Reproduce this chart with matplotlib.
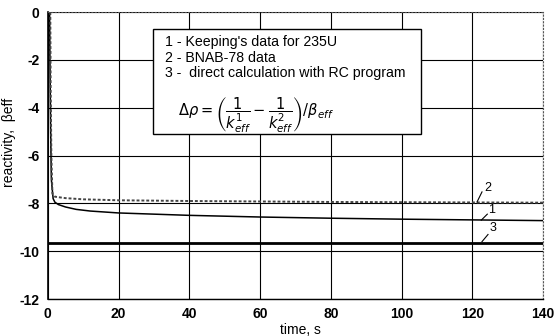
import matplotlib
matplotlib.use('Agg')
import matplotlib.pyplot as plt
from matplotlib.patches import Rectangle

# data
t1 = [0.5, 0.6, 0.8, 1.0, 1.5, 2, 3, 5, 8, 12, 20, 30, 40, 60, 80, 100, 120, 140]
r1 = [0, -2, -5, -7, -7.8, -7.95, -8.05, -8.15, -8.25, -8.32, -8.4, -8.45, -8.5,
      -8.57, -8.62, -8.66, -8.69, -8.72]

t2 = [0.7, 0.8, 1.0, 1.3, 2, 5, 10, 20, 40, 60, 80, 100, 120, 140]
r2 = [0, -3, -6, -7.6, -7.72, -7.78, -7.83, -7.87, -7.9, -7.92, -7.94, -7.95, -7.96, -7.97]

t3 = [0, 140]
r3 = [-9.65, -9.65]

curve_labels = ['2', '1', '3']
label_pos = [(124.4, -7.36), (125.3, -8.28), (125.8, -9.03)]
leader_x = [(121.3, 122.7), (122.5, 124.2), (122.7, 124.4)]
leader_y = [(-7.94, -7.52), (-8.7, -8.45), (-9.6, -9.3)]

legend_lines = ["1 - Keeping's data for 235U",
                "2 - BNAB-78 data",
                "3 -  direct calculation with RC program"]

plt.rcParams['font.family'] = ['Liberation Sans', 'DejaVu Sans']
plt.rcParams['axes.unicode_minus'] = False

fig = plt.figure(figsize=(5.56, 3.36), dpi=100)
ax = fig.add_axes([0.086, 0.110, 0.891, 0.854])

ax.plot(t1, r1, color='black', lw=1.1)
ax.plot(t2, r2, color='#444444', lw=1.4, linestyle=(0, (1.5, 1)))
ax.plot(t3, r3, color='black', lw=2.0)

for lab, (x, y), lx, ly in zip(curve_labels, label_pos, leader_x, leader_y):
    ax.plot(lx, ly, color='black', lw=0.8)
    ax.text(x, y, lab, fontsize=9, ha='center', va='center')

ax.set_xlim(0, 140)
ax.set_ylim(-12, 0)
ax.set_xticks(range(0, 141, 20))
ax.set_yticks(range(-12, 1, 2))
ax.grid(True, color='black', lw=0.8)
ax.tick_params(length=0, labelsize=10, pad=6)
for lbl in ax.get_xticklabels() + ax.get_yticklabels():
    lbl.set_fontweight('bold')

for s in ['top', 'right']:
    ax.spines[s].set_linestyle((0, (1, 2)))
    ax.spines[s].set_color('#555555')
ax.spines['left'].set_linewidth(1.2)
ax.spines['bottom'].set_linewidth(1.0)

ax.set_xlabel('time, s', fontsize=10)
ax.xaxis.set_label_coords(0.51, -0.085)
ax.set_ylabel('reactivity,  βeff', fontsize=10)
ax.yaxis.set_label_coords(-0.065, 0.547)

# legend box with formula
ax.add_patch(Rectangle((0.212, 0.575), 0.542, 0.366, transform=ax.transAxes,
                       fc='white', ec='black', lw=1.0, zorder=5))
for i, line in enumerate(legend_lines):
    ax.text(0.236, 0.895 - i * 0.054, line, transform=ax.transAxes,
            fontsize=10.2, va='center', ha='left', zorder=6)
ax.text(0.262, 0.64,
        r'$\Delta\rho = \left(\dfrac{1}{k^{1}_{eff}} - \dfrac{1}{k^{2}_{eff}}\right) / \beta_{eff}$',
        transform=ax.transAxes, fontsize=10.5, va='center', ha='left', zorder=6)

fig.savefig('out.png', dpi=100)
